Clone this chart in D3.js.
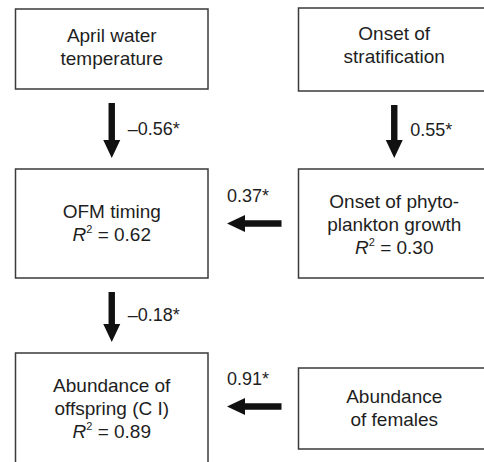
<!DOCTYPE html>
<html>
<head>
<meta charset="utf-8">
<script src="https://cdn.jsdelivr.net/npm/d3@7"></script>
<style>
  body { margin: 0; background: #fff; }
  text { font-family: "Liberation Sans", Arial, sans-serif; fill: #1e1e1e; }
</style>
</head>
<body>
<div id="diagram"></div>
<script>
// path diagram data
const nodeLabels = [
    ['April water', 'temperature'],
    ['Onset of', 'stratification'],
    ['OFM timing'],
    ['Onset of phyto-', 'plankton growth'],
    ['Abundance of', 'offspring (C I)'],
    ['Abundance', 'of females']
];
const nodeR2 = [null, null, '0.62', '0.30', '0.89', null];

const pathFrom = [0, 1, 3, 2, 5];
const pathTo = [2, 3, 2, 4, 4];
const pathCoef = ['\u20130.56*', '0.55*', '0.37*', '\u20130.18*', '0.91*'];

// layout (positions only)
const width = 484;
const height = 462;
const boxCol = [0, 1, 0, 1, 0, 1];
const boxTop = [9, 8, 169, 169, 353, 368];
const boxBottom = [89, 91, 278, 278, 470, 449];
const firstBaseline = [42, 40, 218, 208, 392, 403];
const lineGap = 23;

const colLeft = d3.scaleOrdinal().domain([0, 1]).range([15.5, 298.5]);
const colRight = d3.scaleOrdinal().domain([0, 1]).range([208, 490]);

const svg = d3.select('#diagram').append('svg')
    .attr('width', width)
    .attr('height', height);

const nodes = nodeLabels.map((lines, i) => ({
    lines: lines,
    r2: nodeR2[i],
    x0: colLeft(boxCol[i]),
    x1: colRight(boxCol[i]),
    y0: boxTop[i],
    y1: boxBottom[i],
    base: firstBaseline[i]
}));

// boxes
const nodeG = svg.selectAll('g.node')
    .data(nodes)
    .enter()
    .append('g')
    .attr('class', 'node');

nodeG.append('rect')
    .attr('x', d => d.x0)
    .attr('y', d => d.y0)
    .attr('width', d => d.x1 - d.x0)
    .attr('height', d => d.y1 - d.y0)
    .attr('fill', 'none')
    .attr('stroke', '#3a3a3a')
    .attr('stroke-width', 1.5);

nodeG.each(function (d) {
    const g = d3.select(this);
    const cx = (d.x0 + d.x1) / 2;
    d.lines.forEach((line, k) => {
        g.append('text')
            .attr('x', cx)
            .attr('y', d.base + k * lineGap)
            .attr('text-anchor', 'middle')
            .style('font-size', '19px')
            .text(line);
    });
    if (d.r2 !== null) {
        const t = g.append('text')
            .attr('x', cx)
            .attr('y', d.base + d.lines.length * lineGap)
            .attr('text-anchor', 'middle')
            .style('font-size', '19px');
        t.append('tspan').style('font-style', 'italic').text('R');
        t.append('tspan').attr('dy', -8).style('font-size', '11px').text('2');
        t.append('tspan').attr('dy', 8).text(' = ' + d.r2);
    }
});

// arrows
const shaft = 3.2;
const headHalf = 8.5;
const headLen = 18;

function arrowPath(x1, y1, x2, y2) {
    const len = Math.hypot(x2 - x1, y2 - y1);
    const ux = (x2 - x1) / len, uy = (y2 - y1) / len;
    const px = -uy, py = ux;
    const bx = x2 - ux * headLen, by = y2 - uy * headLen;
    const pts = [
        [x1 + px * shaft, y1 + py * shaft],
        [bx + px * shaft, by + py * shaft],
        [bx + px * headHalf, by + py * headHalf],
        [x2, y2],
        [bx - px * headHalf, by - py * headHalf],
        [bx - px * shaft, by - py * shaft],
        [x1 - px * shaft, y1 - py * shaft]
    ];
    return d3.line()(pts) + 'Z';
}

const paths = pathFrom.map((f, i) => {
    const a = nodes[f], b = nodes[pathTo[i]];
    if (boxCol[f] === boxCol[pathTo[i]]) {
        const x = (a.x0 + a.x1) / 2;
        return { coef: pathCoef[i], vertical: true, x1: x, y1: a.y1 + 14, x2: x, y2: b.y0 - 11 };
    }
    const y = (a.y0 + a.y1) / 2 - (a.y1 - a.y0 > 100 ? 0 : 2);
    return { coef: pathCoef[i], vertical: false, x1: a.x0 - 17, y1: y, x2: b.x1 + 19, y2: y };
});

const arrowG = svg.selectAll('g.path')
    .data(paths)
    .enter()
    .append('g')
    .attr('class', 'path');

arrowG.append('path')
    .attr('d', d => arrowPath(d.x1, d.y1, d.x2, d.y2))
    .attr('fill', '#111');

arrowG.append('text')
    .attr('x', d => d.vertical ? d.x1 + 16 : d.x2)
    .attr('y', d => d.vertical ? (d.y1 + d.y2) / 2 + 4 : d.y1 - 22)
    .style('font-size', '18px')
    .text(d => d.coef);
</script>
</body>
</html>
